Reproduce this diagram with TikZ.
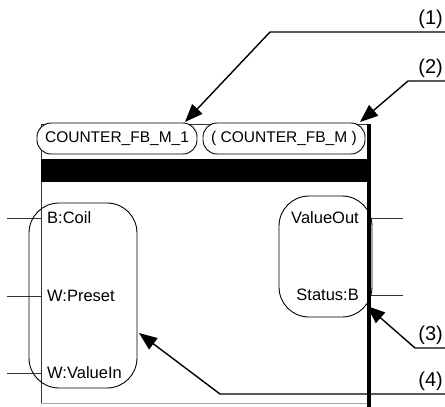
\documentclass[tikz,border=0pt]{standalone}
\usepackage{fontspec}
\setmainfont{Liberation Sans}
\usetikzlibrary{arrows.meta}
\begin{document}
\begin{tikzpicture}[x=1pt,y=-1pt,
  lbl/.style={font=\fontsize{20}{20}\selectfont, inner sep=0pt},
  pinlbl/.style={font=\fontsize{16.5}{17}\selectfont, inner sep=0pt},
  callout/.style={line width=1.4pt, -{Triangle[length=18pt,width=14pt]}},
  wire/.style={line width=1pt, draw=black!80},
  grp/.style={draw, line width=0.9pt, rounded corners=30pt},
  tag/.style={draw, line width=0.9pt, rounded corners=14pt, fill=white,
    minimum height=31pt, inner sep=0pt, font=\fontsize{15.5}{16}\selectfont}]
\useasboundingbox (0,0) rectangle (445,407);
% FB box frame
\draw[line width=1pt, black!80] (41,403) -- (41,124) -- (369,124);
\draw[line width=0.7pt, black!35] (41,403) -- (369,403);
\fill (41,159) rectangle (369,182);
\draw[line width=4pt] (369,124) -- (369,407);
% name tags
\node[tag, minimum width=160pt] (inst) at (117,138.5) {COUNTER\_FB\_M\_1};
\node[tag, minimum width=162pt] (type) at (284,138.5) {( COUNTER\_FB\_M )};
% inputs
\coordinate (i1) at (7,218); \coordinate (i1e) at (41,218);
\coordinate (i2) at (7,296); \coordinate (i2e) at (41,296);
\coordinate (i3) at (7,373); \coordinate (i3e) at (41,373);
\draw[wire] (i1) -- (i1e);
\draw[wire] (i2) -- (i2e);
\draw[wire] (i3) -- (i3e);
\node[pinlbl, anchor=west] (coil) at (47,218) {B:Coil};
\node[pinlbl, anchor=west] (preset) at (47,296) {W:Preset};
\node[pinlbl, anchor=west] (valin) at (47,373) {W:ValueIn};
\draw[grp] (29,203) rectangle (137,388);
% outputs
\coordinate (o1) at (371,218); \coordinate (o1e) at (403,218);
\coordinate (o2) at (371,295); \coordinate (o2e) at (403,295);
\draw[wire] (o1) -- (o1e);
\draw[wire] (o2) -- (o2e);
\node[pinlbl, anchor=east] (valout) at (359,218) {ValueOut};
\node[pinlbl, anchor=east] (status) at (359,295) {Status:B};
\draw[grp] (279,196) rectangle (372,317);
% callouts
\node[lbl, anchor=south east] (n1) at (443,29) {(1)};
\node[lbl, anchor=south east] (n2) at (443,78) {(2)};
\node[lbl, anchor=south east] (n3) at (443,345) {(3)};
\node[lbl, anchor=south east] (n4) at (443,391) {(4)};
\coordinate (e1) at (445,32); \coordinate (k1) at (270,32); \coordinate (t1) at (185,122);
\coordinate (e2) at (445,81); \coordinate (k2) at (408,81); \coordinate (t2) at (360,122);
\coordinate (e3) at (445,348); \coordinate (k3) at (415,348); \coordinate (t3) at (367,306);
\coordinate (e4) at (445,394); \coordinate (k4) at (220,394); \coordinate (t4) at (139,333);
\draw[callout] (e1) -- (k1) -- (t1);
\draw[callout] (e2) -- (k2) -- (t2);
\draw[callout] (e3) -- (k3) -- (t3);
\draw[callout] (e4) -- (k4) -- (t4);
\end{tikzpicture}
\end{document}
